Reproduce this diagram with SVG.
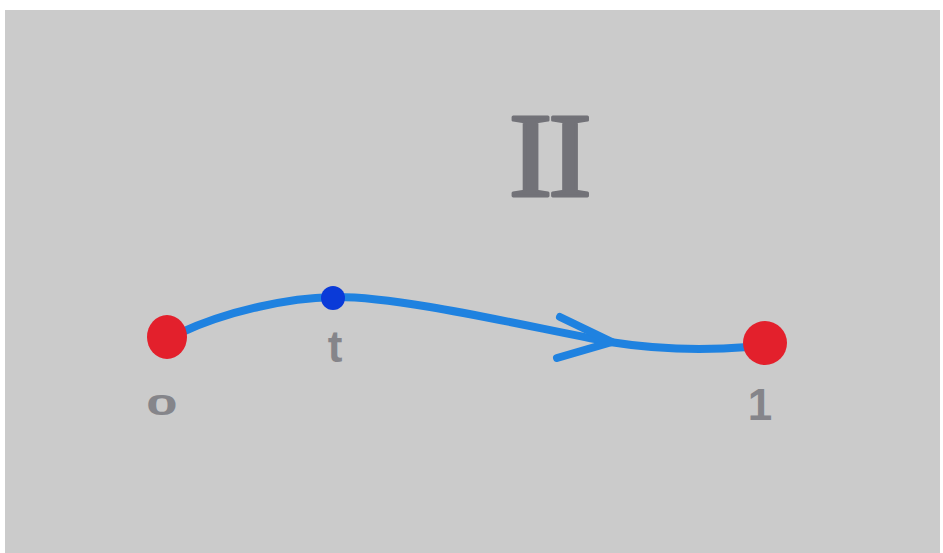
<svg xmlns="http://www.w3.org/2000/svg" width="943" height="553" viewBox="0 0 943 553">
<style>
.lbl{font-family:"Liberation Sans",Arial,sans-serif;fill:#85858a;font-size:44px;font-weight:bold;text-anchor:middle}
.edge{fill:none;stroke:#1f82e0;stroke-width:8;stroke-linecap:round;stroke-linejoin:round}
.end{fill:#e3202c}
</style>
<rect x="0" y="0" width="943" height="553" fill="#ffffff"/>
<rect x="5" y="10" width="935" height="543" fill="#cbcbcb"/>
<g id="label-II">
<text x="0" y="0" font-family="Liberation Serif,serif" font-size="120" fill="#727278" stroke="#727278" stroke-width="3" stroke-linejoin="round" text-anchor="middle" letter-spacing="-4" transform="translate(548 196) scale(1.1 1)">II</text>
</g>
<g id="connectors">
<path class="edge" d="M180 333 C230 310 290 298 333 297 C400 296 520 325 610 342 C660 350 710 350 748 347"/>
<polyline class="edge" points="560,317 612,342 557,358"/>
</g>
<g id="node-0">
<ellipse class="end" cx="167" cy="337" rx="20" ry="22"/>
<text class="lbl" x="0" y="0" font-size="52" transform="translate(162 415) scale(1.3 0.68)">0</text>
</g>
<g id="node-t">
<circle cx="333" cy="298" r="12" fill="#0a3ad8"/>
<text class="lbl" x="335" y="362">t</text>
</g>
<g id="node-1">
<ellipse class="end" cx="765" cy="343" rx="22" ry="22"/>
<text class="lbl" x="760" y="420">1</text>
</g>
</svg>
